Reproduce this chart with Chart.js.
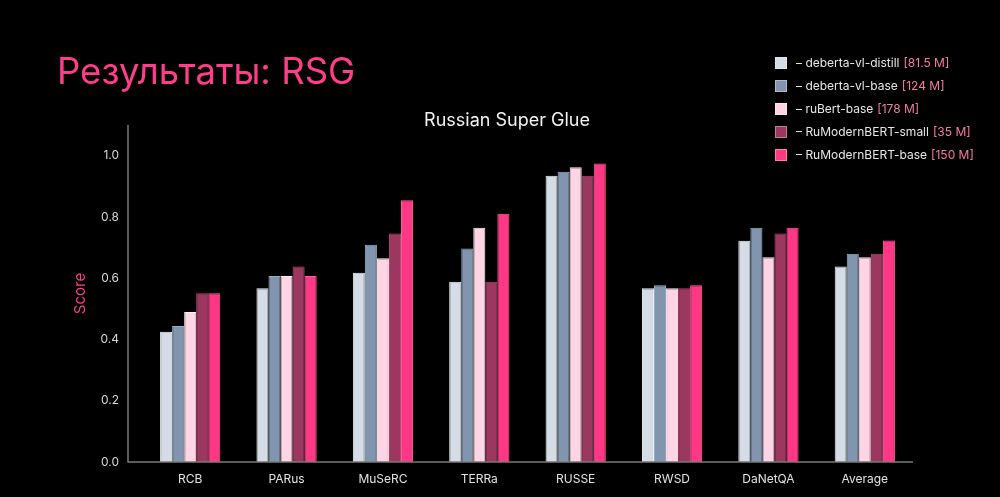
<!DOCTYPE html>
<html>
<head>
<meta charset="utf-8">
<script src="https://cdn.jsdelivr.net/npm/chart.js@4.4.1/dist/chart.umd.min.js"></script>
<style>
    html, body { margin: 0; padding: 0; background: #000; }
    body { width: 1000px; height: 497px; position: relative; overflow: hidden; font-family: Inter, "Noto Sans", sans-serif; }
    #wrap { position: absolute; left: 0; top: 0; width: 1000px; height: 497px; }
    #pageTitle { position: absolute; left: 57px; top: 50px; font-size: 36.5px; color: #ff3d8a; line-height: 42px; white-space: nowrap; }
    #chartTitle { position: absolute; left: 0; width: 1014px; top: 109px; text-align: center; font-size: 18px; color: #f2f2f2; line-height: 22px; }
    #legend { position: absolute; left: 775px; top: 51px; }
    .row { height: 23px; display: flex; align-items: center; font-size: 12px; color: #e6e6e6; white-space: nowrap; }
    .box { width: 12px; height: 12px; box-sizing: border-box; border: 1px solid rgba(255,255,255,0.35); margin-right: 9px; }
    .size { color: #f57ba6; margin-left: 4px; }
</style>
</head>
<body>
<div id="wrap"><canvas id="rsgChart"></canvas></div>
<div id="pageTitle">Результаты: RSG</div>
<div id="chartTitle">Russian Super Glue</div>
<div id="legend"></div>

<script>
// data
const categories = ['RCB', 'PARus', 'MuSeRC', 'TERRa', 'RUSSE', 'RWSD', 'DaNetQA', 'Average'];

const debertaDistill = [0.425, 0.567, 0.618, 0.588, 0.934, 0.567, 0.722, 0.638];
const debertaBase    = [0.444, 0.607, 0.709, 0.697, 0.947, 0.577, 0.765, 0.680];
const ruBertBase     = [0.490, 0.607, 0.665, 0.765, 0.962, 0.567, 0.668, 0.668];
const modernSmall    = [0.551, 0.638, 0.746, 0.588, 0.934, 0.567, 0.746, 0.680];
const modernBase     = [0.551, 0.607, 0.854, 0.810, 0.974, 0.577, 0.765, 0.723];

const modelNames = ['deberta-vl-distill', 'deberta-vl-base', 'ruBert-base', 'RuModernBERT-small', 'RuModernBERT-base'];
const modelSizes = ['[81.5 M]', '[124 M]', '[178 M]', '[35 M]', '[150 M]'];

const yTicks = [0.0, 0.2, 0.4, 0.6, 0.8, 1.0];

const fills   = ['#d5dce6', '#8195ae', '#ffd5e5', '#9c3860', '#ff3885'];
const borders = ['#eef2f8', '#9aabc2', '#fff0f6', '#b04a74', '#ff5c9c'];

// legend (html, because the size part is coloured differently)
const legendEl = document.getElementById('legend');
modelNames.forEach((name, i) => {
    const row = document.createElement('div');
    row.className = 'row';
    row.innerHTML = `<div class="box" style="background:${fills[i]}"></div>– ${name}<span class="size">${modelSizes[i]}</span>`;
    legendEl.appendChild(row);
});

// axis lines sit a bit left of the plot area, like on the slide
const axisLines = {
    id: 'axisLines',
    afterDraw(chart) {
        const { ctx, chartArea } = chart;
        const x0 = chartArea.left - 14;
        ctx.save();
        ctx.strokeStyle = '#7a7a7a';
        ctx.lineWidth = 1.5;
        ctx.beginPath();
        ctx.moveTo(x0, chartArea.top);
        ctx.lineTo(x0, chartArea.bottom);
        ctx.lineTo(chartArea.right, chartArea.bottom);
        ctx.stroke();
        ctx.restore();
    }
};

const seriesData = [debertaDistill, debertaBase, ruBertBase, modernSmall, modernBase];

new Chart(document.getElementById('rsgChart').getContext('2d'), {
    type: 'bar',
    data: {
        labels: categories,
        datasets: seriesData.map((vals, i) => ({
            label: modelNames[i],
            data: vals,
            backgroundColor: fills[i],
            borderColor: borders[i],
            borderWidth: 1,
            barPercentage: 1.0,
            categoryPercentage: 0.625
        }))
    },
    options: {
        responsive: true,
        maintainAspectRatio: false,
        animation: false,
        layout: { padding: { top: 125, right: 87, bottom: 0, left: 68 } },
        scales: {
            x: {
                grid: { display: false },
                border: { display: false },
                ticks: { color: '#e2e2e2', padding: 2, font: { family: 'Inter', size: 12 } },
                afterFit: (scale) => { scale.height = 35; }
            },
            y: {
                min: 0,
                max: 1.1,
                grid: { display: false },
                border: { display: false },
                afterBuildTicks: (scale) => { scale.ticks = yTicks.map(v => ({ value: v })); },
                ticks: {
                    color: '#d6d6d6',
                    padding: 15,
                    font: { family: 'Inter', size: 12 },
                    callback: (v) => Number(v).toFixed(1)
                },
                title: { display: true, text: 'Score', color: '#ff3d8a', padding: 3, font: { family: 'Inter', size: 15 } },
                afterFit: (scale) => { scale.width = 74; }
            }
        },
        plugins: {
            legend: { display: false },
            tooltip: { enabled: false }
        }
    },
    plugins: [axisLines]
});
</script>
</body>
</html>
